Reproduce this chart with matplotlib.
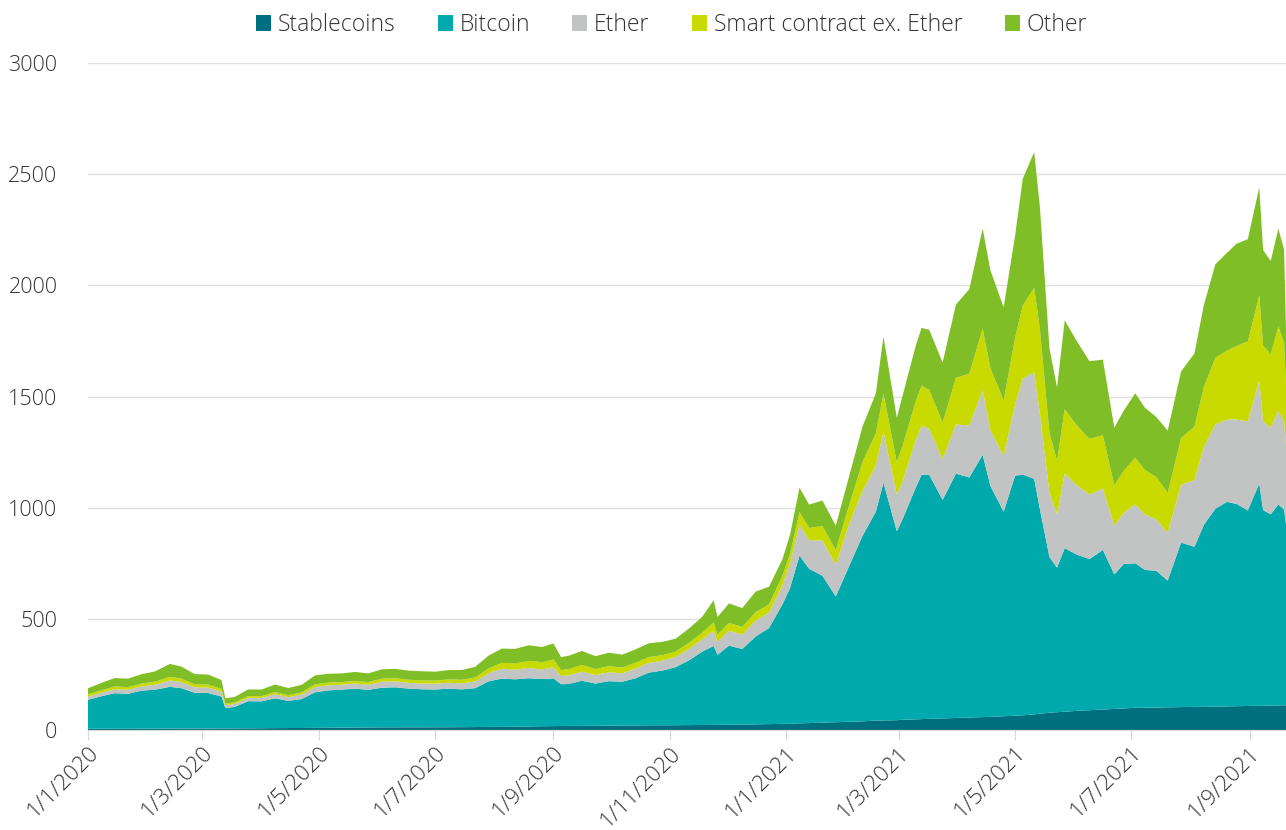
import pandas as pd
import matplotlib
matplotlib.use("Agg")
import matplotlib.pyplot as plt
import matplotlib.dates as mdates
from matplotlib.ticker import FuncFormatter

plt.rcParams['font.family'] = ['Open Sans', 'DejaVu Sans']
plt.rcParams['font.weight'] = 'light'

# sample dates (weekly, plus a few peaks/troughs)
dates = [
    "2020-01-01", "2020-01-08", "2020-01-15", "2020-01-22", "2020-01-29", "2020-02-05",
    "2020-02-13", "2020-02-19", "2020-02-26", "2020-03-04", "2020-03-11", "2020-03-13",
    "2020-03-18", "2020-03-25", "2020-04-01", "2020-04-08", "2020-04-15", "2020-04-22",
    "2020-04-29", "2020-05-06", "2020-05-13", "2020-05-20", "2020-05-27", "2020-06-03",
    "2020-06-10", "2020-06-17", "2020-06-24", "2020-07-01", "2020-07-08", "2020-07-15",
    "2020-07-22", "2020-07-29", "2020-08-05", "2020-08-12", "2020-08-19", "2020-08-26",
    "2020-09-01", "2020-09-05", "2020-09-09", "2020-09-16", "2020-09-23", "2020-09-30",
    "2020-10-07", "2020-10-14", "2020-10-21", "2020-10-28", "2020-11-04", "2020-11-11",
    "2020-11-18", "2020-11-24", "2020-11-26", "2020-12-02", "2020-12-09", "2020-12-16",
    "2020-12-23", "2020-12-30",
    "2021-01-03", "2021-01-08", "2021-01-13", "2021-01-20", "2021-01-27", "2021-02-03",
    "2021-02-10", "2021-02-17", "2021-02-21", "2021-02-28", "2021-03-03", "2021-03-10",
    "2021-03-13", "2021-03-17", "2021-03-24", "2021-03-31", "2021-04-07", "2021-04-14",
    "2021-04-18", "2021-04-25", "2021-05-01", "2021-05-05", "2021-05-11", "2021-05-14",
    "2021-05-19", "2021-05-23", "2021-05-27", "2021-06-02", "2021-06-09", "2021-06-16",
    "2021-06-22", "2021-06-27", "2021-07-03", "2021-07-08", "2021-07-14", "2021-07-20",
    "2021-07-27", "2021-08-03", "2021-08-08", "2021-08-14", "2021-08-20", "2021-08-25",
    "2021-08-31", "2021-09-06", "2021-09-08", "2021-09-12", "2021-09-16", "2021-09-19",
    "2021-09-20",
]

stablecoins = [
    5.5, 5.6, 5.7, 5.8, 5.9, 6.0, 6.1, 6.2, 6.3, 6.4, 6.5, 6.6, 7.0, 7.5, 8.0, 8.5, 8.8, 9.0,
    9.5, 10, 10.5, 11, 11.5, 12, 12, 12.1, 12.2, 12.3, 12.5, 12.8, 13.2, 13.8, 14.3, 15, 16, 17,
    17.5, 17.8, 18, 18.5, 19, 19.5, 20, 20.5, 21, 21.3, 21.5, 22, 22.5, 23, 23, 23.5, 24.5, 25.5,
    26.5, 27.5,
    28, 30, 31, 33, 35, 37, 39, 42, 43, 44, 46, 48, 49, 50, 52, 54, 56, 58, 59, 62, 64, 66, 70,
    73, 78, 80, 82, 86, 89, 92, 95, 97, 100, 100, 101, 102, 103, 104, 104, 105, 106, 107, 108,
    109, 109, 110, 110, 111, 111,
]
bitcoin = [
    130, 146, 160, 157, 171, 175, 188, 182, 161, 160, 144, 92, 97, 122, 121, 134, 122, 130,
    160, 168, 171, 175, 169, 178, 180, 174, 171, 170, 173, 170, 175, 205, 217, 213, 217, 212,
    215, 188, 189, 203, 190, 200, 197, 212, 237, 246, 261, 291, 330, 355, 315, 356, 340, 395,
    432, 537,
    610, 755, 694, 661, 566, 700, 834, 940, 1070, 850, 902, 1044, 1100, 1098, 983, 1099, 1080,
    1180, 1040, 920, 1080, 1083, 1060, 920, 700, 650, 736, 704, 680, 718, 605, 650, 650, 620,
    615, 570, 740, 720, 820, 890, 920, 910, 880, 1000, 880, 860, 905, 880, 815,
]
ether = [
    14, 16, 18, 18, 19, 22, 29, 28, 25, 25, 22, 13, 13, 15, 15, 19, 17, 20, 24, 23, 22, 23, 23,
    27, 27, 26, 26, 26, 27, 27, 30, 36, 45, 43, 46, 43, 50, 37, 39, 41, 38, 40, 38, 43, 44, 44,
    46, 52, 55, 68, 58, 67, 65, 72, 70, 86,
    110, 140, 129, 158, 143, 189, 202, 207, 230, 165, 170, 214, 220, 207, 183, 221, 234, 292,
    250, 250, 320, 432, 480, 430, 290, 240, 335, 314, 290, 276, 220, 230, 265, 250, 232, 215,
    260, 300, 350, 380, 370, 380, 400, 464, 400, 390, 420, 400, 355,
]
smart_ex_ether = [
    10, 11, 12, 12, 13, 14, 16, 15, 13, 13, 12, 7, 7, 8, 8, 9, 9, 10, 12, 12, 12, 12, 12, 14,
    14, 14, 14, 14, 15, 16, 18, 22, 26, 28, 32, 33, 35, 27, 28, 30, 27, 28, 26, 27, 26, 25, 24,
    27, 30, 38, 32, 35, 34, 38, 36, 42,
    45, 55, 55, 65, 65, 85, 130, 145, 170, 145, 160, 175, 180, 175, 165, 210, 233, 276, 280,
    250, 300, 328, 380, 380, 270, 240, 290, 270, 250, 240, 180, 190, 210, 200, 190, 180, 210,
    240, 270, 300, 310, 330, 360, 382, 340, 330, 380, 350, 270,
]
other = [
    28, 33, 38, 38, 42, 46, 58, 54, 46, 45, 40, 24, 25, 30, 30, 34, 32, 34, 40, 40, 39, 40, 39,
    42, 42, 41, 41, 40, 42, 44, 48, 58, 64, 66, 70, 68, 72, 58, 60, 63, 58, 60, 58, 60, 62, 60,
    58, 64, 72, 100, 80, 88, 85, 92, 80, 75,
    85, 110, 105, 115, 110, 130, 160, 180, 257, 200, 225, 250, 260, 270, 270, 330, 380, 450,
    440, 420, 460, 570, 610, 550, 380, 330, 400, 380, 350, 340, 260, 270, 290, 280, 270, 280,
    300, 330, 370, 420, 440, 460, 460, 487, 430, 420, 440, 420, 250,
]

labels = ["Stablecoins", "Bitcoin", "Ether", "Smart contract ex. Ether", "Other"]
colors = ["#006f80", "#00a9ab", "#c2c3c3", "#c9da00", "#80be28"]

x = pd.to_datetime(dates)

fig = plt.figure(figsize=(12.86, 8.30), dpi=100)
ax = fig.add_axes([0.0684, 0.1205, 0.9316, 0.8035])

ax.stackplot(x, stablecoins, bitcoin, ether, smart_ex_ether, other,
             colors=colors, labels=labels, linewidth=0)

ax.set_ylim(0, 3000)
ax.set_yticks(range(0, 3001, 500))
ax.set_xlim(pd.Timestamp("2020-01-01"), pd.Timestamp("2021-09-20"))

ticks = pd.date_range("2020-01-01", "2021-09-01", freq="2MS")
ax.set_xticks(ticks)
ax.xaxis.set_major_formatter(FuncFormatter(
    lambda v, pos: "1/{}/{}".format(mdates.num2date(v).month, mdates.num2date(v).year)))

ax.set_axisbelow(True)
ax.yaxis.grid(True, color="#e0e0e0", linewidth=1)
for s in ["top", "right", "left"]:
    ax.spines[s].set_visible(False)
ax.spines["bottom"].set_color("#d8d8d8")

ax.tick_params(axis="y", length=0, pad=22, labelsize=15.5, labelcolor="#333333")
ax.tick_params(axis="x", length=7, color="#d8d8d8", labelsize=16, labelcolor="#333333", pad=2)
for lab in ax.get_xticklabels():
    lab.set_rotation(45)
    lab.set_ha("right")
    lab.set_va("top")
    lab.set_rotation_mode("anchor")

fig.legend(loc="upper center", bbox_to_anchor=(0.522, 1.009), ncol=5, frameon=False,
           fontsize=16.5, handlelength=0.65, handleheight=0.65, handletextpad=0.3,
           columnspacing=1.85, labelcolor="#333333")

fig.savefig("out.png", dpi=100)
